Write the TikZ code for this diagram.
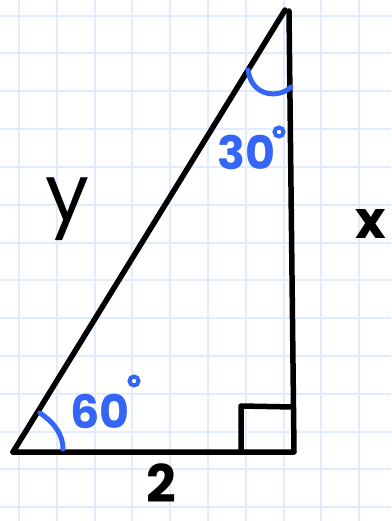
\documentclass[tikz,border=0pt]{standalone}
\usepackage{fontspec}
\setmainfont{Poppins}
\definecolor{gridblue}{RGB}{224,237,255}
\definecolor{angblue}{RGB}{52,101,246}
\begin{document}
\begin{tikzpicture}[x=1pt,y=-1pt,
  edge/.style={line width=5.5pt,line cap=round,line join=round,black},
  angarc/.style={line width=5pt,line cap=round,angblue},
  lbl/.style={inner sep=0pt,font=\fontsize{52}{52}\selectfont\bfseries},
  anglbl/.style={inner sep=0pt,text=angblue,font=\fontsize{46}{46}\selectfont\bfseries}]
\useasboundingbox (0,0) rectangle (391,521);
\begin{scope}
\clip (0,0) rectangle (391,521);
\fill[white] (0,0) rectangle (391,521);
\foreach \i in {0,...,10} {\draw[gridblue,line width=2pt] (19+37.8*\i,0) -- (19+37.8*\i,521);}
\foreach \j in {0,...,13} {\draw[gridblue,line width=2pt] (0,15.7+37.8*\j) -- (391,15.7+37.8*\j);}
\coordinate (A) at (13,452);
\coordinate (B) at (294,452);
\coordinate (C) at (289,11);
\coordinate (Ct) at (285,10);
\coordinate (S1) at (241,452);
\coordinate (S2) at (241,406);
\coordinate (S3) at (293,407);
\draw[edge] (A) -- (B) -- (C);
\draw[edge] (A) -- (Ct);
\draw[edge] (S1) -- (S2) -- (S3);
\coordinate (a1) at (248,70);
\coordinate (a2) at (291,87);
\draw[angarc] (a1) .. controls (252,98) and (280,98) .. (a2);
\coordinate (b1) at (40,413);
\coordinate (b2) at (63,449);
\draw[angarc] (b1) .. controls (56,424) and (63,436) .. (b2);
\node[lbl,font=\fontsize{78}{78}\selectfont,anchor=base] (ly) at (67,220) {y};
\node[lbl,anchor=base] (lx) at (371,238) {x};
\node[lbl,anchor=base] (l2) at (161,502) {2};
\node[anglbl,anchor=base west] (t30) at (217,170) {30};
\draw[angarc,line width=4pt] (279,132) circle (4.5);
\node[anglbl,anchor=base west] (t60) at (70,428) {60};
\draw[angarc,line width=4pt] (134,381) circle (4.5);
\end{scope}
\end{tikzpicture}
\end{document}
